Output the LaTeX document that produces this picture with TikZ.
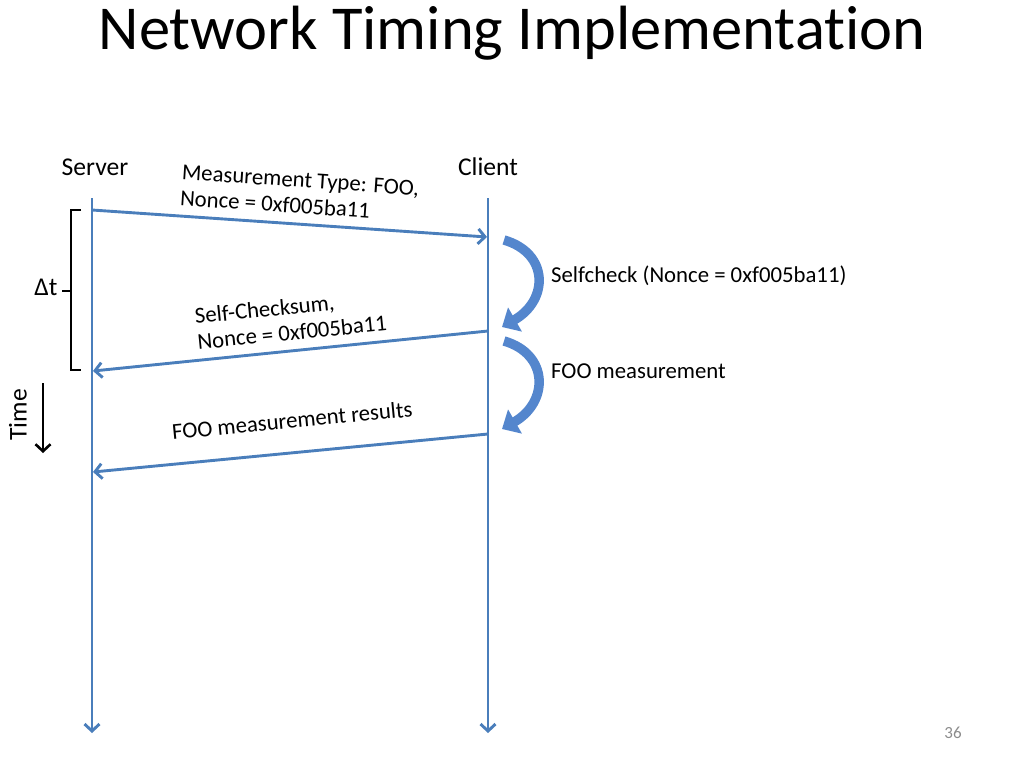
\documentclass[tikz,border=0pt]{standalone}
\usepackage{fontspec}
\setmainfont[Ligatures=NoCommon]{Carlito}
\usetikzlibrary{arrows.meta}
\definecolor{lineblue}{RGB}{74,126,187}
\definecolor{blockblue}{RGB}{84,134,205}
\definecolor{pagegray}{RGB}{140,140,140}
\tikzset{
  lifeline/.style={draw=lineblue, line width=2.9pt, -{Straight Barb[length=7pt,width=15pt,line width=2.9pt]}},
  msg/.style={draw=lineblue, line width=2.9pt, -{Straight Barb[length=7pt,width=15pt,line width=2.9pt]}},
  bodytext/.style={font=\fontsize{22.75}{26}\selectfont, inner sep=0pt, align=left},
  headtext/.style={font=\fontsize{25.6}{28}\selectfont, inner sep=0pt},
  bendarrow/.style={draw=blockblue, line width=9.5pt, -{Triangle[length=15pt,width=27pt]}},
  bracketline/.style={draw=black, line width=2.4pt},
}
\begin{document}
\begin{tikzpicture}[x=1pt,y=-1pt]
\useasboundingbox (0,0) rectangle (1024,768);
% title
\node[font=\fontsize{62.5}{70}\selectfont, inner sep=0pt] (title) at (512,33) {Network Timing Implementation};
% headers
\node[headtext] (server) at (95,167) {Server};
\node[headtext] (client) at (488,167) {Client};
% lifelines
\coordinate (s0) at (92,198);
\coordinate (s1) at (92,733);
\coordinate (c0) at (488,198);
\coordinate (c1) at (488,733);
\draw[lifeline] (s0) -- (s1);
\draw[lifeline] (c0) -- (c1);
% messages
\coordinate (m1a) at (92,210);
\coordinate (m1b) at (487,237);
\coordinate (m2a) at (488,331);
\coordinate (m2b) at (93,371);
\coordinate (m3a) at (488,434);
\coordinate (m3b) at (93,472);
\draw[msg] (m1a) -- (m1b);
\draw[msg] (m2a) -- (m2b);
\draw[msg] (m3a) -- (m3b);
\node[bodytext, anchor=west, rotate=-3.9] (l1) at (181,185) {Measurement Type: FOO,\\Nonce = 0xf005ba11};
\node[bodytext, anchor=west, rotate=5.8] (l2) at (196,329) {Self-Checksum,\\Nonce = 0xf005ba11};
\node[bodytext, anchor=west, rotate=5.5] (l3) at (172,432) {FOO measurement results};
% curved block arrows
\coordinate (b1a) at (504,240);
\coordinate (b1b) at (502,327);
\coordinate (b2a) at (504,341);
\coordinate (b2b) at (502,429);
\draw[bendarrow] (b1a) .. controls (549,253) and (549,300) .. (b1b);
\draw[bendarrow] (b2a) .. controls (549,354) and (549,402) .. (b2b);
\node[bodytext, anchor=west] (selfcheck) at (551,276) {Selfcheck (Nonce = 0xf005ba11)};
\node[bodytext, anchor=west] (foo) at (551,371) {FOO measurement};
% delta t bracket
\coordinate (br1) at (81,210);
\coordinate (br2) at (71,210);
\coordinate (br3) at (71,370);
\coordinate (br4) at (81,370);
\coordinate (brm) at (71,291);
\coordinate (brt) at (62,291);
\draw[bracketline] (br1) -- (br2) -- (br3) -- (br4);
\draw[bracketline] (brm) -- (brt);
\node[headtext] (dt) at (46,287) {Δt};
% time arrow
\node[headtext, rotate=90] (time) at (18,415) {Time};
\coordinate (t0) at (43,383);
\coordinate (t1) at (43,453);
\draw[draw=black, line width=2.6pt, -{Straight Barb[length=7pt,width=15pt,line width=2.6pt]}] (t0) -- (t1);
% page number
\node[font=\fontsize{17}{20}\selectfont, text=pagegray, inner sep=0pt] (page) at (953,733) {36};
\end{tikzpicture}
\end{document}
